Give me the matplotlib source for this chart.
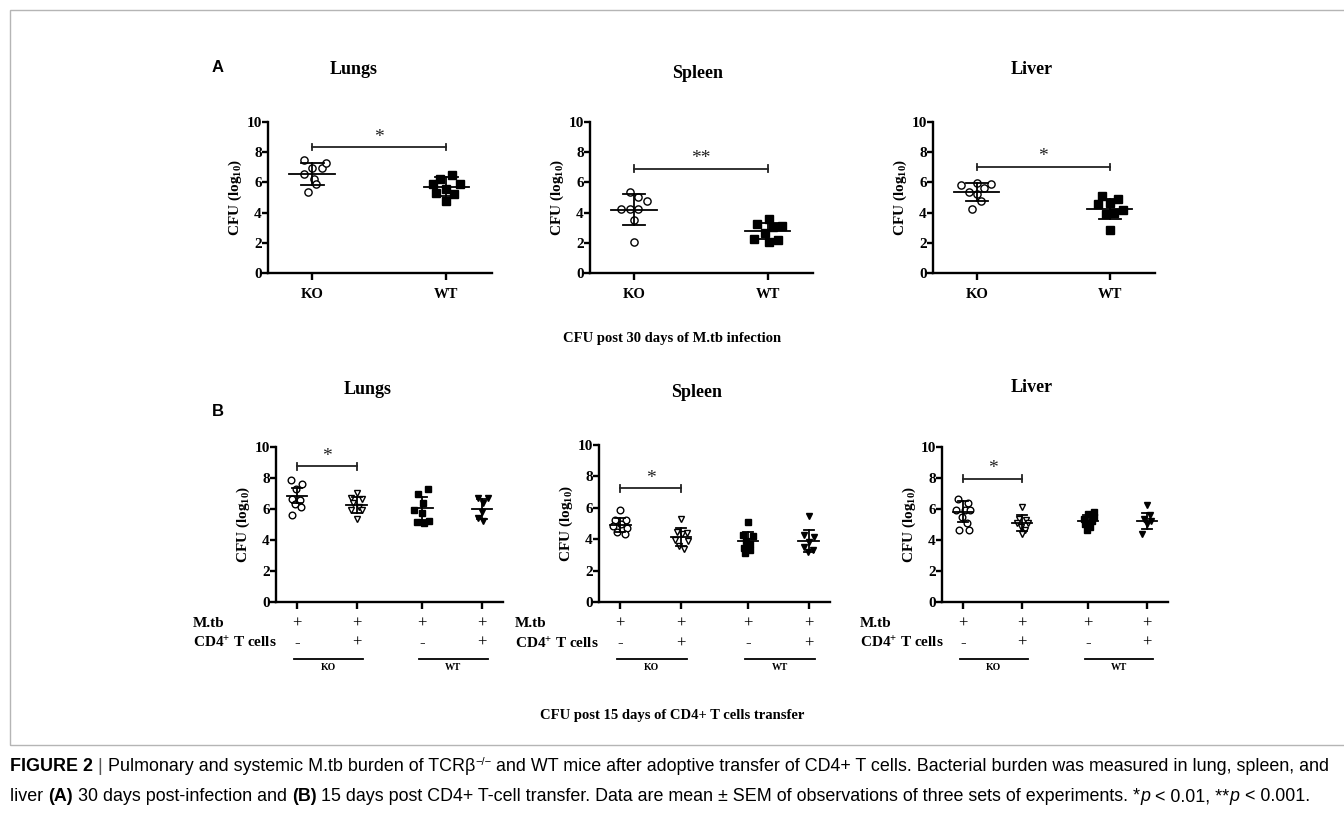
import numpy as np
import matplotlib
matplotlib.use('Agg')
import matplotlib.pyplot as plt
from matplotlib import font_manager
from matplotlib.patches import Rectangle

plt.rcParams['font.family'] = 'Liberation Serif'
plt.rcParams['font.weight'] = 'bold'
plt.rcParams['mathtext.fontset'] = 'custom'
plt.rcParams['mathtext.rm'] = 'Liberation Serif:bold'
plt.rcParams['mathtext.it'] = 'Liberation Serif:italic:bold'
plt.rcParams['mathtext.bf'] = 'Liberation Serif:bold'

W, H = 1344, 816

# ---------------- data ----------------
organs = ['Lungs', 'Spleen', 'Liver']
a_groups = ['KO', 'WT']

# panel A: CFU 30 days post infection (KO open circles, WT filled squares)
a_lungs_ko = [7.50, 6.98, 6.98, 7.28, 6.53, 6.25, 5.87, 5.36]
a_lungs_ko_jit = [-0.06, 0.0, 0.07, 0.10, -0.06, 0.01, 0.03, -0.03]
a_lungs_wt = [6.25, 6.47, 5.92, 5.58, 5.87, 5.30, 5.25, 4.77]
a_lungs_wt_jit = [-0.05, 0.04, -0.10, 0.0, 0.10, -0.08, 0.06, 0.0]
a_spleen_ko = [5.36, 5.03, 4.77, 4.26, 4.26, 4.26, 3.53, 2.05]
a_spleen_ko_jit = [-0.03, 0.03, 0.10, -0.10, -0.03, 0.03, 0.0, 0.0]
a_spleen_wt = [3.60, 3.27, 3.09, 3.05, 2.65, 2.27, 2.16, 2.05]
a_spleen_wt_jit = [0.01, -0.08, 0.11, 0.04, -0.02, -0.10, 0.08, 0.01]
a_liver_ko = [5.96, 5.81, 5.87, 5.63, 5.36, 5.21, 4.77, 4.26]
a_liver_ko_jit = [0.0, -0.12, 0.11, 0.05, -0.06, 0.0, 0.03, -0.04]
a_liver_wt = [5.08, 4.88, 4.64, 4.55, 4.15, 3.97, 3.93, 2.83]
a_liver_wt_jit = [-0.06, 0.06, 0.0, -0.09, 0.10, 0.03, -0.03, 0.0]
a_means = [[6.58, 5.70], [4.19, 2.78], [5.36, 4.26]]
a_errs = [[0.72, 0.63], [1.02, 0.52], [0.57, 0.66]]
a_sig_y = [8.34, 6.91, 7.02]
a_sig_txt = ['*', '**', '*']

# panel B: CFU 15 days after CD4+ T cell transfer
b_mtb = ['+', '+', '+', '+']
b_cd4 = ['-', '+', '-', '+']
b_lungs = [[7.84, 7.62, 7.28, 6.63, 6.59, 6.33, 6.11, 5.62],
           [7.06, 6.70, 6.63, 6.37, 6.16, 5.94, 5.94, 5.33],
           [7.28, 6.98, 6.41, 5.94, 5.72, 5.25, 5.18, 5.08],
           [6.70, 6.70, 6.37, 5.83, 5.40, 5.25]]
b_lungs_jit = [[-0.10, 0.09, -0.01, -0.09, 0.06, -0.03, 0.07, -0.09],
               [0.0, -0.10, 0.09, -0.06, 0.04, -0.09, 0.09, 0.0],
               [0.09, -0.07, 0.01, -0.14, -0.01, 0.11, -0.09, 0.03],
               [-0.07, 0.10, 0.01, 0.0, -0.07, 0.01]]
b_spleen = [[5.89, 5.21, 5.21, 4.96, 4.83, 4.74, 4.47, 4.32],
            [5.26, 4.47, 4.40, 4.32, 3.98, 3.89, 3.55, 3.40],
            [5.11, 4.26, 4.19, 3.89, 3.72, 3.47, 3.30, 3.13],
            [5.47, 4.26, 4.15, 3.83, 3.51, 3.34, 3.19]]
b_spleen_jit = [[0.0, -0.08, 0.09, 0.02, -0.12, 0.11, -0.05, 0.07],
                [0.0, -0.07, 0.09, 0.01, -0.10, 0.11, -0.03, 0.05],
                [0.0, -0.08, 0.08, -0.04, 0.04, -0.07, 0.03, -0.05],
                [0.0, -0.08, 0.08, 0.0, -0.07, 0.07, -0.02]]
b_liver = [[6.67, 6.39, 5.91, 5.91, 5.91, 5.48, 5.10, 4.67, 4.67],
           [6.13, 5.38, 5.27, 5.10, 5.10, 4.84, 4.67, 4.37],
           [5.81, 5.70, 5.48, 5.38, 5.23, 5.05, 4.84, 4.67],
           [6.24, 5.59, 5.38, 5.23, 5.05, 4.41]]
b_liver_jit = [[-0.08, 0.09, -0.12, 0.03, 0.12, -0.01, 0.07, -0.07, 0.10],
               [0.0, -0.06, 0.06, -0.09, 0.09, -0.03, 0.04, 0.0],
               [0.10, 0.0, 0.10, -0.07, 0.07, -0.04, 0.04, -0.01],
               [0.0, 0.04, -0.06, 0.07, -0.01, -0.09]]
b_means = [[6.87, 6.26, 6.05, 6.00], [4.89, 4.15, 3.89, 3.89], [5.81, 5.10, 5.23, 5.23]]
b_errs = [[0.50, 0.52, 0.75, 0.65], [0.45, 0.56, 0.58, 0.72], [0.68, 0.49, 0.41, 0.50]]
b_sig_y = [8.75, 7.23, 7.96]

# ---------------- layout / style ----------------
a_boxes = [(268, 492, 122, 273), (590, 813, 122, 273), (933, 1155, 122, 273)]
b_boxes = [(276, 503, 447, 602), (599, 830, 445, 602), (942, 1168, 447, 602)]
a_title_xy = [(354, 70), (698, 74), (1032, 70)]
b_title_xy = [(368, 389), (697, 392), (1032, 388)]
a_pos = [0, 1]
b_pos = [0, 1, 2.1, 3.1]
a_mk = [dict(marker='o', mfc='white'), dict(marker='s', mfc='black')]
b_mk = [dict(marker='o', mfc='white'), dict(marker='v', mfc='white'),
        dict(marker='s', mfc='black'), dict(marker='v', mfc='black')]

fig = plt.figure(figsize=(W / 100, H / 100), dpi=100)


def fx(x):
    return x / W


def fy(y):
    return 1 - y / H


def make_ax(box):
    x0, x1, yt, yb = box
    ax = fig.add_axes([fx(x0), fy(yb), (x1 - x0) / W, (yb - yt) / H])
    for s in ['top', 'right']:
        ax.spines[s].set_visible(False)
    for s in ['left', 'bottom']:
        ax.spines[s].set_linewidth(1.7)
    ax.set_ylim(0, 10)
    ax.set_yticks([0, 2, 4, 6, 8, 10])
    ax.tick_params(axis='both', width=1.7, length=4, labelsize=11, pad=0.5)
    ax.tick_params(axis='x', length=5, pad=6)
    ax.set_ylabel(r'CFU (log$_{10}$)', fontsize=11, fontweight='bold', labelpad=2)
    ax.patch.set_alpha(0)
    return ax


def dots(ax, x, vals, jit, mk, ms):
    xs = [x + j for j in jit]
    ax.plot(xs, vals, ls='none', ms=ms, mec='black', mew=1.0, clip_on=False, zorder=3, **mk)


def mean_err(ax, x, m, e):
    ax.plot([x - 0.17, x + 0.17], [m, m], color='black', lw=1.3, zorder=4)
    ax.plot([x, x], [m - e, m + e], color='black', lw=1.3, zorder=4)
    for yy in (m - e, m + e):
        ax.plot([x - 0.085, x + 0.085], [yy, yy], color='black', lw=1.3, zorder=4)


def sig(ax, x0, x1, y, txt):
    ax.plot([x0, x1], [y, y], color='#222222', lw=1.3, clip_on=False)
    for xx in (x0, x1):
        ax.plot([xx, xx], [y - 0.22, y + 0.22], color='#222222', lw=1.3, clip_on=False)
    ax.text((x0 + x1) / 2, y + 0.1, txt, ha='center', va='bottom', fontsize=14,
            fontweight='normal', color='#222222')


# panel A
a_vals = [[a_lungs_ko, a_lungs_wt], [a_spleen_ko, a_spleen_wt], [a_liver_ko, a_liver_wt]]
a_jits = [[a_lungs_ko_jit, a_lungs_wt_jit], [a_spleen_ko_jit, a_spleen_wt_jit],
          [a_liver_ko_jit, a_liver_wt_jit]]
for i, organ in enumerate(organs):
    ax = make_ax(a_boxes[i])
    ax.set_xlim(-0.33, 1.34)
    ax.set_xticks(a_pos)
    ax.set_xticklabels(a_groups, fontsize=10.5, fontweight='bold')
    for g in range(2):
        dots(ax, a_pos[g], a_vals[i][g], a_jits[i][g], a_mk[g], 5.2)
        mean_err(ax, a_pos[g], a_means[i][g], a_errs[i][g])
    sig(ax, a_pos[0], a_pos[1], a_sig_y[i], a_sig_txt[i])
    fig.text(fx(a_title_xy[i][0]), fy(a_title_xy[i][1]), organ, ha='center', va='center',
             fontsize=13, fontweight='bold')

# panel B
b_vals = [b_lungs, b_spleen, b_liver]
b_jits = [b_lungs_jit, b_spleen_jit, b_liver_jit]
for i, organ in enumerate(organs):
    ax = make_ax(b_boxes[i])
    ax.set_xlim(-0.35, 3.45)
    ax.set_xticks(b_pos)
    ax.set_xticklabels([])
    for g in range(4):
        dots(ax, b_pos[g], b_vals[i][g], b_jits[i][g], b_mk[g], 4.8)
        mean_err(ax, b_pos[g], b_means[i][g], b_errs[i][g])
    sig(ax, b_pos[0], b_pos[1], b_sig_y[i], '*')
    tr = ax.get_xaxis_transform()
    for g in range(4):
        ax.text(b_pos[g], -0.14, b_mtb[g], transform=tr, ha='center', va='center',
                fontsize=12, fontweight='normal')
        ax.text(b_pos[g], -0.265, b_cd4[g], transform=tr, ha='center', va='center',
                fontsize=12, fontweight='normal')
    ax.text(-0.365, -0.14, 'M.tb', transform=ax.transAxes, ha='left', va='center',
            fontsize=11, fontweight='bold')
    ax.text(-0.365, -0.265, r'CD4$^{+}$ T cells', transform=ax.transAxes, ha='left',
            va='center', fontsize=11, fontweight='bold')
    for k, lab in enumerate(['KO', 'WT']):
        p0, p1 = b_pos[2 * k], b_pos[2 * k + 1]
        ax.plot([p0 - 0.05, p1 + 0.1], [-0.365, -0.365], transform=tr, color='black',
                lw=1.3, clip_on=False)
        ax.text((p0 + p1) / 2 + 0.02, -0.42, lab, transform=tr, ha='center', va='center',
                fontsize=7, fontweight='bold')
    fig.text(fx(b_title_xy[i][0]), fy(b_title_xy[i][1]), organ, ha='center', va='center',
             fontsize=13, fontweight='bold')

# panel letters and section captions
fig.text(fx(218), fy(67), 'A', family='Liberation Sans', fontsize=12, fontweight='bold',
         ha='center', va='center')
fig.text(fx(218), fy(411), 'B', family='Liberation Sans', fontsize=12, fontweight='bold',
         ha='center', va='center')
fig.text(fx(672), fy(338), 'CFU post 30 days of M.tb infection', ha='center', va='center',
         fontsize=10.5, fontweight='bold')
fig.text(fx(672), fy(715), 'CFU post 15 days of CD4+ T cells transfer', ha='center',
         va='center', fontsize=10.5, fontweight='bold')

# frame
fig.patches.append(Rectangle((fx(10), fy(745)), 1.2, (745 - 10) / H, transform=fig.transFigure,
                             fill=False, edgecolor='#b5b5b5', lw=1.0))

# figure caption with mixed styles
cap_font = 'Liberation Sans'
try:
    font_manager.findfont('Liberation Sans Narrow', fallback_to_default=False)
    cap_font = 'Liberation Sans Narrow'
except Exception:
    pass

renderer = fig.canvas.get_renderer()


def text_w(txt, size, **kw):
    t1 = fig.text(0, 0, '|' + txt + '|', fontsize=size, family=cap_font, **kw)
    t2 = fig.text(0, 0, '||', fontsize=size, family=cap_font, **kw)
    w = t1.get_window_extent(renderer).width - t2.get_window_extent(renderer).width
    t1.remove()
    t2.remove()
    return w


def rich_line(x, y, pieces, size):
    for txt, kw in pieces:
        kw = dict(kw)
        dy = kw.pop('dy', 0)
        sz = kw.pop('size', size)
        fig.text(fx(x), fy(y - dy), txt, fontsize=sz, family=cap_font, va='baseline',
                 ha='left', **kw)
        x += text_w(txt, sz, **kw)


N = dict(fontweight='normal')
B = dict(fontweight='bold')
I = dict(fontweight='normal', style='italic')
cap_size = 12.9
rich_line(10, 771, [
    ('FIGURE 2', B), (' | ', dict(fontweight='normal', color='#555555')),
    ('Pulmonary and systemic M.tb burden of TCR\u03b2', N),
    ('\u2212/\u2212', dict(fontweight='normal', size=8, dy=6)),
    (' and WT mice after adoptive transfer of CD4+ T cells. Bacterial burden was measured in lung, spleen, and', N),
], cap_size)
rich_line(10, 801, [
    ('liver ', N), ('(A)', B), (' 30 days post-infection and ', N), ('(B)', B),
    (' 15 days post CD4+ T-cell transfer. Data are mean \u00b1 SEM of observations of three sets of experiments. *', N),
    ('p', I), (' < 0.01, **', N), ('p', I), (' < 0.001.', N),
], cap_size)

fig.savefig('out.png', dpi=100)
